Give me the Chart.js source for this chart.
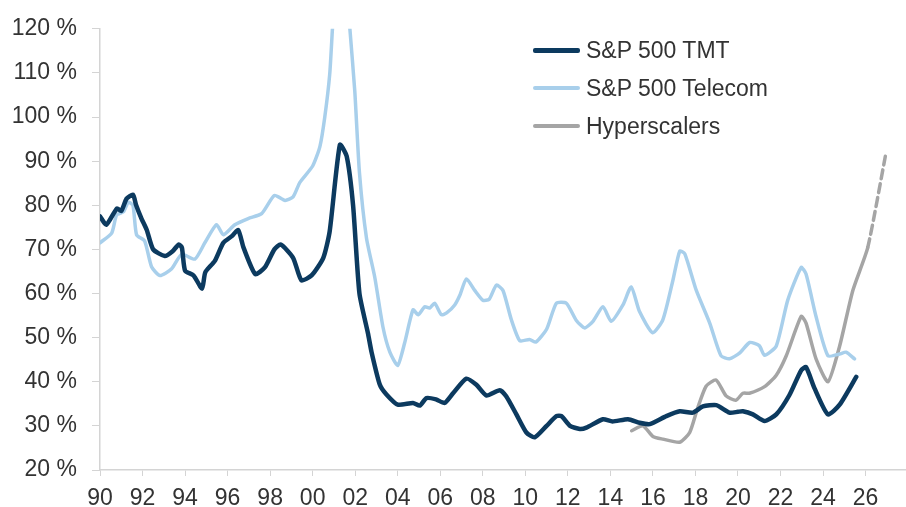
<!DOCTYPE html>
<html>
<head>
<meta charset="utf-8">
<script src="https://cdn.jsdelivr.net/npm/chart.js@4.4.1/dist/chart.umd.min.js"></script>
<style>
  html, body { margin: 0; padding: 0; background: #fff; }
  #wrap { position: relative; width: 906px; height: 507px; }
  #legend { position: absolute; left: 533px; top: 31px; font-family: "Liberation Sans", Arial, sans-serif; font-size: 23px; color: #333; }
  .row { display: flex; align-items: center; height: 38px; }
  .swatch { width: 47px; margin-right: 6px; border-radius: 2px; }
</style>
</head>
<body>
<div id="wrap">
  <canvas id="chart" width="906" height="507"></canvas>
  <div id="legend"></div>
</div>
<script>
// Series (x = year, y = %)
const tmtYears = [1990.0, 1990.3, 1990.8, 1991.0, 1991.25, 1991.55, 1991.7, 1991.95, 1992.2, 1992.5, 1993.05, 1993.4, 1993.7, 1993.85, 1994.0, 1994.4, 1994.8, 1994.95, 1995.4, 1995.8, 1996.2, 1996.5, 1996.75, 1997.3, 1997.75, 1998.2, 1998.5, 1999.08, 1999.47, 1999.95, 2000.5, 2000.8, 2001.28, 2001.6, 2001.9, 2002.2, 2002.6, 2002.77, 2003.16, 2003.47, 2004.0, 2004.72, 2005.04, 2005.35, 2005.8, 2006.2, 2006.6, 2007.23, 2007.7, 2008.17, 2008.8, 2009.1, 2009.58, 2010.05, 2010.44, 2011.0, 2011.46, 2011.7, 2012.1, 2012.56, 2012.87, 2013.65, 2014.1, 2014.83, 2015.37, 2015.85, 2016.63, 2017.26, 2017.88, 2018.35, 2018.98, 2019.6, 2020.0, 2020.23, 2020.7, 2021.25, 2021.8, 2022.42, 2022.97, 2023.2, 2023.6, 2024.23, 2024.78, 2025.56];
const tmtValues = [77.5, 75.6, 79.3, 78.7, 81.5, 82.4, 80, 77, 74.4, 70, 68.5, 69.5, 71.1, 70.4, 65.2, 64.1, 61.1, 64.8, 67.4, 71.5, 73, 74.4, 70.4, 64.4, 65.9, 70, 71.1, 68.1, 63, 64.1, 68.1, 74.1, 93.7, 91.1, 80, 60, 51, 46.7, 39.3, 37.1, 34.8, 35.2, 34.6, 36.3, 36, 35.2, 37.4, 40.7, 39.3, 36.9, 38.1, 36.7, 32.6, 28.5, 27.4, 30, 32.2, 32.2, 30, 29.3, 29.6, 31.5, 31, 31.5, 30.7, 30.4, 32.2, 33.3, 33, 34.4, 34.7, 33, 33.2, 33.3, 32.6, 31.1, 32.6, 37, 42.6, 43.3, 38.5, 32.6, 34.8, 41.1];

const telecomYears = [1990.0, 1990.55, 1990.78, 1991.1, 1991.33, 1991.55, 1991.72, 1992.1, 1992.43, 1992.82, 1993.37, 1993.84, 1994.46, 1994.93, 1995.48, 1995.8, 1996.34, 1996.97, 1997.6, 1998.2, 1998.7, 1999.08, 1999.4, 2000.0, 2000.34, 2000.57, 2000.8, 2000.93, 2001.3, 2001.75, 2001.98, 2002.2, 2002.53, 2002.92, 2003.31, 2003.63, 2004.0, 2004.33, 2004.72, 2004.96, 2005.27, 2005.5, 2005.74, 2006.05, 2006.3, 2006.68, 2006.92, 2007.23, 2007.62, 2008.0, 2008.3, 2008.64, 2008.95, 2009.34, 2009.74, 2010.2, 2010.5, 2011.0, 2011.46, 2011.93, 2012.4, 2012.79, 2013.18, 2013.65, 2014.04, 2014.59, 2014.98, 2015.37, 2015.99, 2016.47, 2016.94, 2017.26, 2017.5, 2018.04, 2018.67, 2019.2, 2019.6, 2020.07, 2020.55, 2021.0, 2021.25, 2021.8, 2022.34, 2022.97, 2023.2, 2023.67, 2024.23, 2024.78, 2025.08, 2025.48];
const telecomValues = [71.5, 73.7, 77.8, 78.5, 80.7, 80, 73.3, 71.9, 66, 64.1, 65.6, 68.9, 67.8, 71.5, 75.6, 73.3, 75.6, 77, 78.1, 82.2, 81.1, 81.9, 85.2, 88.9, 93.3, 100, 109.6, 120, 148, 120, 105.9, 87.4, 72.6, 63.7, 52.3, 46.7, 43.7, 48.9, 56.3, 55.2, 57, 56.7, 57.8, 55.2, 55.6, 57.4, 59.6, 63.3, 60.7, 58.5, 58.7, 61.9, 60.7, 54.1, 49.3, 49.6, 49, 51.9, 57.8, 57.8, 53.9, 52.2, 53.7, 57, 53.7, 57.4, 61.5, 55.9, 51.1, 54.1, 63, 69.6, 69, 60.7, 53.3, 45.9, 45.2, 46.5, 48.9, 48.2, 46, 48.1, 58.5, 65.9, 64.4, 54.8, 45.9, 46.3, 46.7, 45.2];

const hyperYears = [2015.0, 2015.53, 2016.0, 2016.47, 2017.26, 2017.73, 2018.1, 2018.5, 2018.97, 2019.44, 2019.9, 2020.23, 2020.54, 2021.25, 2021.8, 2022.27, 2022.97, 2023.2, 2023.67, 2024.23, 2024.78, 2025.4, 2026.1];
const hyperValues = [28.9, 30, 27.6, 27, 26.3, 28.5, 34, 39, 40.4, 36.8, 35.8, 37.4, 37.4, 38.9, 41.5, 45.9, 54.8, 53.3, 45.2, 40, 48.1, 60.7, 70.4];
// dashed projection continuing the hyperscalers line
const hyperForecastYears = [2026.96];
const hyperForecastValues = [91.9];

const xTicks = [1990, 1992, 1994, 1996, 1998, 2000, 2002, 2004, 2006, 2008, 2010, 2012, 2014, 2016, 2018, 2020, 2022, 2024, 2026];
const yTicks = [20, 30, 40, 50, 60, 70, 80, 90, 100, 110, 120];

const seriesNames = ['S&P 500 TMT', 'S&P 500 Telecom', 'Hyperscalers'];
const seriesColors = ['#0c3a5f', '#a8cfeb', '#a5a5a5'];

const toPoints = (xs, ys) => xs.map((x, i) => ({ x: x, y: ys[i] }));
const hyperAll = toPoints(hyperYears.concat(hyperForecastYears), hyperValues.concat(hyperForecastValues));
const lastSolid = hyperYears.length - 1;

const font = { family: '"Liberation Sans", Arial, sans-serif', size: 23 };
const axisColor = '#d4d4d4';

new Chart(document.getElementById('chart').getContext('2d'), {
    type: 'line',
    data: {
        datasets: [
            {
                label: seriesNames[2],
                data: hyperAll,
                borderColor: seriesColors[2],
                borderWidth: 3.5,
                segment: {
                    borderDash: ctx => ctx.p0DataIndex >= lastSolid ? [9, 5] : undefined
                },
                order: 3
            },
            {
                label: seriesNames[1],
                data: toPoints(telecomYears, telecomValues),
                borderColor: seriesColors[1],
                borderWidth: 3.5,
                order: 2
            },
            {
                label: seriesNames[0],
                data: toPoints(tmtYears, tmtValues),
                borderColor: seriesColors[0],
                borderWidth: 4.5,
                order: 1
            }
        ]
    },
    options: {
        responsive: false,
        animation: false,
        layout: { padding: { top: 20, right: 0, left: 0, bottom: 0 } },
        elements: {
            point: { radius: 0 },
            line: { tension: 0.2, borderJoinStyle: 'round', borderCapStyle: 'round', fill: false }
        },
        scales: {
            x: {
                type: 'linear',
                min: 1990,
                max: 2027.9,
                afterBuildTicks: s => { s.ticks = xTicks.map(v => ({ value: v })); },
                afterFit: s => { s.height = 37; },
                grid: { display: true, drawOnChartArea: false, drawTicks: true, tickLength: 6, color: axisColor },
                border: { display: true, color: axisColor, width: 1.5 },
                ticks: {
                    color: '#333',
                    font: font,
                    padding: 9,
                    maxRotation: 0,
                    autoSkip: false,
                    callback: v => String(v % 100).padStart(2, '0')
                }
            },
            y: {
                min: 20,
                max: 120,
                afterBuildTicks: s => { s.ticks = yTicks.map(v => ({ value: v })); },
                afterFit: s => { s.width = 100; },
                grid: { display: true, drawOnChartArea: false, drawTicks: true, tickLength: 8, color: axisColor },
                border: { display: true, color: axisColor, width: 1.5 },
                ticks: {
                    color: '#333',
                    font: font,
                    padding: 15,
                    callback: v => v + ' %'
                }
            }
        },
        plugins: {
            legend: { display: false },
            tooltip: { enabled: false }
        }
    }
});

// legend
const legend = document.getElementById('legend');
const legendWidths = [5, 4, 4];
seriesNames.forEach((name, i) => {
    const row = document.createElement('div');
    row.className = 'row';
    row.innerHTML = `<span class="swatch" style="height:${legendWidths[i]}px;background:${seriesColors[i]}"></span><span>${name.replace('&', '&amp;')}</span>`;
    legend.appendChild(row);
});
</script>
</body>
</html>
